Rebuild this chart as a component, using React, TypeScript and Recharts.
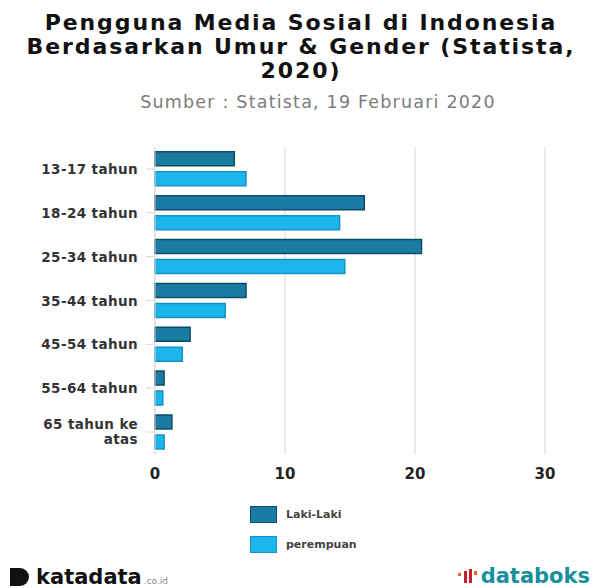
import React from 'react';
import { Bar, BarChart, CartesianGrid, XAxis, YAxis } from 'recharts';

const AGE_GROUPS = ['13-17 tahun', '18-24 tahun', '25-34 tahun', '35-44 tahun', '45-54 tahun', '55-64 tahun', '65 tahun ke atas'];
const LAKI_LAKI = [6.1, 16.1, 20.5, 7.0, 2.7, 0.7, 1.3];
const PEREMPUAN = [7.0, 14.2, 14.6, 5.4, 2.1, 0.6, 0.7];
const X_TICKS = [0, 10, 20, 30];

const SERIES = [
  { key: 'laki', name: 'Laki-Laki', fill: '#1a7ca3', stroke: '#0e4d69' },
  { key: 'perempuan', name: 'perempuan', fill: '#1db6ec', stroke: '#1593c6' },
];

const FONT = '"DejaVu Sans", sans-serif';

const chartData = AGE_GROUPS.map((age, index) => ({
  age,
  laki: LAKI_LAKI[index],
  perempuan: PEREMPUAN[index],
}));

const AgeTick = ({ x, y, payload }: any) => {
  const label: string = payload.value;
  const words = label.split(' ');
  const lines = label.length > 12 ? [words.slice(0, -1).join(' '), words[words.length - 1]] : [label];
  return (
    <text x={x} y={y} textAnchor="end" fontSize={13.5} fontWeight={700} fill="#333" fontFamily={FONT} letterSpacing={0.4}>
      {lines.map((line, i) => (
        <tspan key={line} x={x} dy={i === 0 ? (lines.length > 1 ? -3 : 5) : 15}>
          {line}
        </tspan>
      ))}
    </text>
  );
};

export default function App() {
  return (
    <div style={{ position: 'absolute', left: 0, top: 0, width: 602, height: 588, background: '#fff', overflow: 'hidden' }}>
      <div
        style={{
          position: 'absolute',
          top: 11,
          left: 0,
          width: 602,
          textAlign: 'center',
          fontFamily: FONT,
          fontWeight: 700,
          fontSize: 22,
          lineHeight: '24px',
          color: '#111',
          letterSpacing: 1.9,
        }}
      >
        Pengguna Media Sosial di Indonesia
        <br />
        Berdasarkan Umur &amp; Gender (Statista,
        <br />
        2020)
      </div>
      <div
        style={{
          position: 'absolute',
          top: 92,
          left: 17,
          width: 602,
          textAlign: 'center',
          fontFamily: FONT,
          fontSize: 17.5,
          color: '#7c7c7c',
          letterSpacing: 1.2,
        }}
      >
        Sumber : Statista, 19 Februari 2020
      </div>

      <BarChart
        width={602}
        height={588}
        data={chartData}
        layout="vertical"
        margin={{ top: 147, right: 57, bottom: 104, left: 0 }}
        barCategoryGap="11%"
        barGap={6}
      >
        <CartesianGrid horizontal={false} stroke="#e4e4e4" strokeWidth={1.5} />
        <XAxis
          type="number"
          domain={[0, 30]}
          ticks={X_TICKS}
          axisLine={false}
          tickLine={false}
          tickMargin={8}
          height={30}
          tick={{ fontSize: 15, fill: '#222', fontFamily: FONT, fontWeight: 700 }}
        />
        <YAxis
          type="category"
          dataKey="age"
          width={155}
          axisLine={{ stroke: '#e0dede' }}
          tickLine={{ stroke: '#ecd3d3' }}
          tickSize={9}
          tickMargin={8}
          tick={<AgeTick />}
          interval={0}
        />
        {SERIES.map((s) => (
          <Bar
            key={s.key}
            dataKey={s.key}
            name={s.name}
            fill={s.fill}
            stroke={s.stroke}
            strokeWidth={1.5}
            isAnimationActive={false}
          />
        ))}
      </BarChart>

      <div style={{ position: 'absolute', left: 250, top: 506, fontFamily: FONT }}>
        {SERIES.map((s) => (
          <div key={s.key} style={{ display: 'flex', alignItems: 'center', height: 17, marginBottom: 13 }}>
            <div style={{ width: 25, height: 15, background: s.fill, border: `1px solid ${s.stroke}`, marginRight: 9 }} />
            <span style={{ fontSize: 11, fontWeight: 700, color: '#444' }}>{s.name}</span>
          </div>
        ))}
      </div>

      <div style={{ position: 'absolute', left: 10, top: 566, display: 'flex', alignItems: 'flex-end', fontFamily: FONT }}>
        <svg width={22} height={18} style={{ marginRight: 4, marginBottom: 2 }}>
          <path d="M0 0 H10 A9 9 0 0 1 10 18 H0 Z" fill="#111" />
        </svg>
        <span style={{ fontSize: 21, fontWeight: 700, color: '#111', lineHeight: '22px' }}>katadata</span>
        <span style={{ fontSize: 9, color: '#888', marginLeft: 2, marginBottom: 2 }}>.co.id</span>
      </div>
      <div style={{ position: 'absolute', right: 12, top: 565, display: 'flex', alignItems: 'flex-end', fontFamily: FONT }}>
        <svg width={22} height={18} style={{ marginRight: 2, marginBottom: 2 }}>
          <rect x={1} y={6} width={3} height={3} fill="#e0682a" />
          <rect x={7} y={4} width={3} height={12} fill="#c8202f" />
          <rect x={12} y={2} width={3} height={14} fill="#c8202f" />
          <rect x={17} y={4} width={3} height={4} fill="#e0682a" />
        </svg>
        <span style={{ fontSize: 21, fontWeight: 700, color: '#17909c', lineHeight: '22px' }}>databoks</span>
      </div>
    </div>
  );
}
